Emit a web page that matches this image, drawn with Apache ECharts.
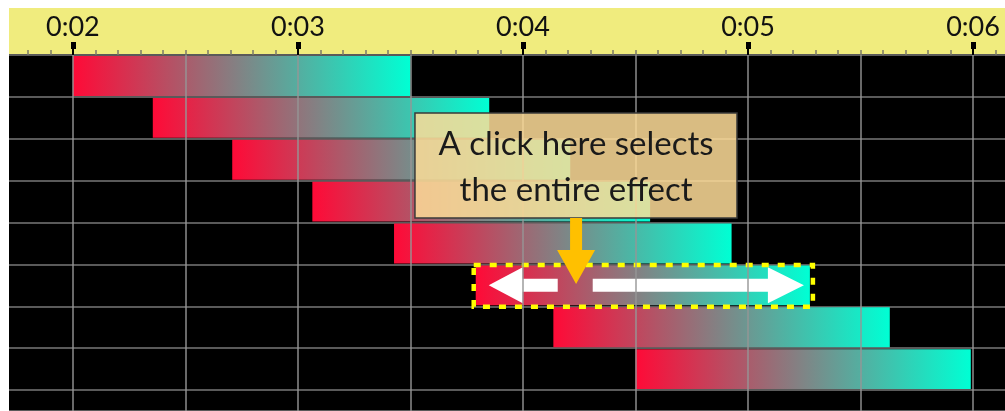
<!DOCTYPE html>
<html><head><meta charset="utf-8">
<script src="https://cdn.jsdelivr.net/npm/echarts@6/dist/echarts.min.js"></script>
<style>html,body{margin:0;padding:0;background:#fff}#c{width:1005px;height:411px}</style>
</head><body><div id="c"></div>
<script>
// ---- data ----
const effectRows = [0, 1, 2, 3, 4, 5, 6, 7];
const startTimes = [2.0, 2.355, 2.708, 3.064, 3.427, 3.79, 4.135, 4.5];
const endTimes   = [3.5, 3.85, 4.21, 4.565, 4.927, 5.275, 5.63, 5.99];
const labelSeconds = [2, 3, 4, 5, 6];
const labelTexts = ['0:02', '0:03', '0:04', '0:05', '0:06'];
const gridSeconds = [2, 2.5, 3, 3.5, 4, 4.5, 5, 5.5, 6];
const minorTickStep = 0.1;
const selectedRow = 5;
const calloutLines = ['A click here selects', 'the entire effect'];

// ---- annotation anchors (data coords) ----
const calloutBox = { x0: 3.52, x1: 4.951, y0: 1.385, y1: 3.89 };
const calloutTextAt = { x: 4.236, y: 2.674 };
const pointer = { x: 4.236, y0: 3.89, headY: 4.656, tipY: 5.47 };

const timeMin = 1.716, timeMax = 6.142;
const minorTicks = [];
for (let k = Math.ceil(timeMin / minorTickStep); k * minorTickStep <= timeMax; k++) minorTicks.push(+(k * minorTickStep).toFixed(2));

const chart = echarts.init(document.getElementById('c'), null, { renderer: 'canvas' });

function timeAxis(extra) {
  return Object.assign({
    type: 'value', position: 'top', min: timeMin, max: timeMax,
    axisLine: { show: false }, axisTick: { show: false }, axisLabel: { show: false },
    splitLine: { show: false }
  }, extra);
}

const barGradient = new echarts.graphic.LinearGradient(0, 0, 1, 0, [
  { offset: 0, color: '#ff0a37' },
  { offset: 1, color: '#00ffd4' }
]);

const option = {
  backgroundColor: '#ffffff',
  animation: false,
  grid: { left: 9, right: 0, top: 55, bottom: 0, show: true, backgroundColor: '#000000', borderWidth: 0 },
  xAxis: [
    timeAxis({ offset: 5,
      axisTick: { show: true, customValues: minorTicks, length: 5, lineStyle: { color: '#7a7a6a', width: 1.5 } } }),
    timeAxis({
      axisLabel: { show: true, customValues: labelSeconds, margin: 14, fontFamily: 'Lato', fontSize: 27, color: '#111',
        formatter: v => { const i = labelSeconds.indexOf(v); return i >= 0 ? labelTexts[i] : ''; } } }),
    timeAxis({ axisTick: { show: true, customValues: labelSeconds, length: 9, lineStyle: { color: '#000', width: 2 } } }),
    timeAxis({ offset: 6, axisTick: { show: true, customValues: labelSeconds, length: 7, lineStyle: { color: '#000', width: 5 } } })
  ],
  yAxis: {
    type: 'value', inverse: true, min: 0, max: 8.5, interval: 1,
    axisLine: { show: false }, axisTick: { show: false }, axisLabel: { show: false },
    splitLine: { show: true, lineStyle: { color: '#5a5a5a', width: 2 } }
  },
  series: [{
    type: 'custom',
    xAxisIndex: 0, yAxisIndex: 0,
    data: effectRows.map(i => [startTimes[i], endTimes[i], i]),
    encode: { x: [0, 1], y: 2 },
    markLine: {
      silent: true, symbol: 'none', label: { show: false },
      lineStyle: { color: 'rgba(150,150,150,0.7)', width: 2, type: 'solid' },
      data: gridSeconds.map(s => ({ xAxis: s }))
    },
    renderItem: function (params, api) {
      const row = api.value(2);
      const p0 = api.coord([api.value(0), row]);
      const p1 = api.coord([api.value(1), row + 1]);
      const L = p0[0], R = p1[0], top = p0[1], bot = p1[1];
      const children = [{
        type: 'rect',
        shape: { x: L, y: top + 1, width: R - L, height: bot - top - 2 },
        style: { fill: barGradient }
      }];
      if (row === selectedRow) {
        const cy = (top + bot) / 2;
        children.push({
          type: 'polygon', shape: { points: [
            [L + 13, cy], [L + 47, cy - 18], [L + 47, cy - 6.5], [L + 82, cy - 6.5],
            [L + 82, cy + 6.5], [L + 47, cy + 6.5], [L + 47, cy + 18]] },
          style: { fill: '#ffffff' }, z2: 10
        });
        children.push({
          type: 'polygon', shape: { points: [
            [R - 6, cy], [R - 42, cy - 18], [R - 42, cy - 6.5], [L + 117, cy - 6.5],
            [L + 117, cy + 6.5], [R - 42, cy + 6.5], [R - 42, cy + 18]] },
          style: { fill: '#ffffff' }, z2: 10
        });
        children.push({
          type: 'rect',
          shape: { x: L - 2, y: top + 0.5, width: R - L + 5, height: bot - top },
          style: { fill: 'none', stroke: '#ffff00', lineWidth: 4.5, lineDash: [7, 9] }, z2: 11
        });
      }
      return { type: 'group', children: children };
    }
  }]
};
chart.setOption(option);

const cv = (x, y) => chart.convertToPixel({ xAxisIndex: 0, yAxisIndex: 0 }, [x, y]);
const b0 = cv(calloutBox.x0, calloutBox.y0), b1 = cv(calloutBox.x1, calloutBox.y1);
const tc = cv(calloutTextAt.x, calloutTextAt.y);
const a0 = cv(pointer.x, pointer.y0), ah = cv(pointer.x, pointer.headY), at = cv(pointer.x, pointer.tipY);
const ax = a0[0];

chart.setOption({
  graphic: [
    { type: 'rect', z: -1, shape: { x: 9, y: 8, width: 996, height: 47 }, style: { fill: '#f0ec7e' } },
    { type: 'rect', z: 100, shape: { x: 0, y: 0, width: 9, height: 411 }, style: { fill: '#ffffff' } },
    { type: 'rect', z: 100, shape: { x: 0, y: 0, width: 1005, height: 8 }, style: { fill: '#ffffff' } },
    { type: 'rect', z: 60, shape: { x: b0[0], y: b0[1], width: b1[0] - b0[0], height: b1[1] - b0[1] },
      style: { fill: 'rgba(253,219,151,0.86)', stroke: '#3a3a3a', lineWidth: 1.5 } },
    { type: 'text', z: 61, x: tc[0], y: tc[1],
      style: { text: calloutLines.join('\n'), font: '33px Lato', fill: '#1a1a1a',
        align: 'center', verticalAlign: 'middle', lineHeight: 46 } },
    { type: 'polygon', z: 62, shape: { points: [
        [ax - 6, a0[1]], [ax + 6, a0[1]], [ax + 6, ah[1]], [ax + 19, ah[1]],
        [ax, at[1]], [ax - 19, ah[1]], [ax - 6, ah[1]]] },
      style: { fill: '#ffc000' } }
  ]
});
</script>
</body></html>
